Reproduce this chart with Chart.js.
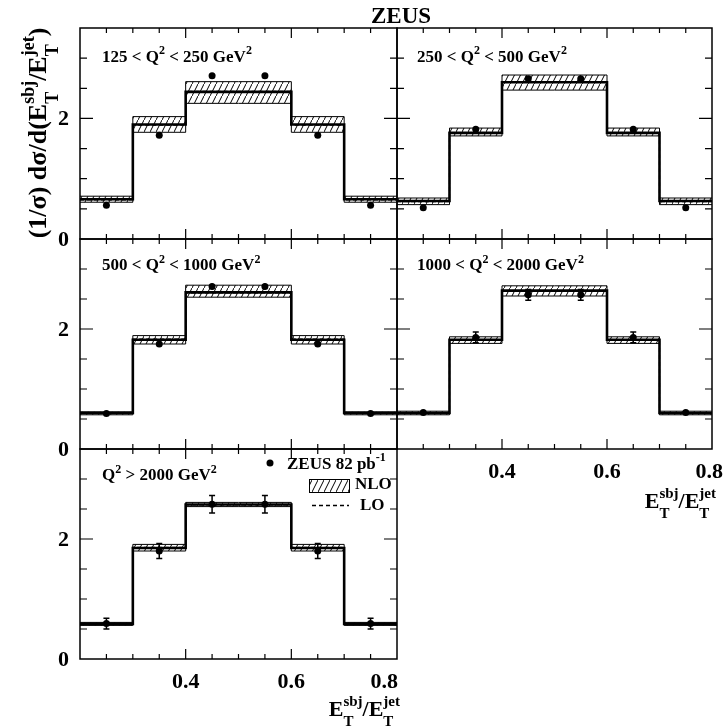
<!DOCTYPE html>
<html>
<head>
<meta charset="utf-8">
<script src="https://cdn.jsdelivr.net/npm/chart.js@4.4.1/dist/chart.umd.min.js"></script>
<style>
html, body { margin: 0; padding: 0; background: #fff; }
#wrap { position: relative; width: 728px; height: 726px; }
#wrap canvas { position: absolute; left: 0; top: 0; }
</style>
</head>
<body>
<div id="wrap"></div>
<script>
// Bins of E_T^sbj / E_T^jet
const binEdges = [0.2, 0.3, 0.4, 0.5, 0.6, 0.7, 0.8];
const binCentres = [0.25, 0.35, 0.45, 0.55, 0.65, 0.75];
const yTickLabels = [0, 2];
const xTickLabels = [0.4, 0.6, 0.8];

// 125 < Q2 < 250
const zeus1 = [0.56, 1.72, 2.71, 2.71, 1.72, 0.56];
const zeus1Err = [0.02, 0.03, 0.03, 0.03, 0.03, 0.02];
const nlo1 = [0.66, 1.90, 2.44, 2.44, 1.90, 0.66];
const nlo1Up = [0.71, 2.03, 2.61, 2.61, 2.03, 0.71];
const nlo1Dn = [0.61, 1.77, 2.25, 2.25, 1.77, 0.61];
const lo1 = [0.65, 1.89, 2.45, 2.45, 1.89, 0.65];

// 250 < Q2 < 500
const zeus2 = [0.52, 1.82, 2.66, 2.66, 1.82, 0.52];
const zeus2Err = [0.02, 0.03, 0.03, 0.03, 0.03, 0.02];
const nlo2 = [0.63, 1.76, 2.60, 2.60, 1.76, 0.63];
const nlo2Up = [0.68, 1.84, 2.72, 2.72, 1.84, 0.68];
const nlo2Dn = [0.57, 1.71, 2.47, 2.47, 1.71, 0.57];
const lo2 = [0.62, 1.76, 2.61, 2.61, 1.76, 0.62];

// 500 < Q2 < 1000
const zeus3 = [0.59, 1.75, 2.71, 2.71, 1.75, 0.59];
const zeus3Err = [0.02, 0.04, 0.05, 0.05, 0.04, 0.02];
const nlo3 = [0.60, 1.82, 2.61, 2.61, 1.82, 0.60];
const nlo3Up = [0.62, 1.89, 2.73, 2.73, 1.89, 0.62];
const nlo3Dn = [0.57, 1.75, 2.53, 2.53, 1.75, 0.57];
const lo3 = [0.60, 1.83, 2.60, 2.60, 1.83, 0.60];

// 1000 < Q2 < 2000
const zeus4 = [0.61, 1.86, 2.57, 2.57, 1.86, 0.61];
const zeus4Err = [0.04, 0.09, 0.09, 0.09, 0.09, 0.04];
const nlo4 = [0.60, 1.82, 2.64, 2.64, 1.82, 0.60];
const nlo4Up = [0.63, 1.87, 2.72, 2.72, 1.87, 0.63];
const nlo4Dn = [0.57, 1.76, 2.55, 2.55, 1.76, 0.57];
const lo4 = [0.60, 1.82, 2.63, 2.63, 1.82, 0.60];

// Q2 > 2000
const zeus5 = [0.59, 1.80, 2.58, 2.58, 1.80, 0.59];
const zeus5Err = [0.09, 0.125, 0.145, 0.145, 0.125, 0.09];
const nlo5 = [0.585, 1.85, 2.575, 2.575, 1.85, 0.585];
const nlo5Up = [0.61, 1.91, 2.61, 2.61, 1.91, 0.61];
const nlo5Dn = [0.56, 1.80, 2.54, 2.54, 1.80, 0.56];
const lo5 = [0.59, 1.86, 2.57, 2.57, 1.86, 0.59];

const panelLabels = [
    [{t: '125 < Q'}, {sup: '2'}, {t: ' < 250 GeV'}, {sup: '2'}],
    [{t: '250 < Q'}, {sup: '2'}, {t: ' < 500 GeV'}, {sup: '2'}],
    [{t: '500 < Q'}, {sup: '2'}, {t: ' < 1000 GeV'}, {sup: '2'}],
    [{t: '1000 < Q'}, {sup: '2'}, {t: ' < 2000 GeV'}, {sup: '2'}],
    [{t: 'Q'}, {sup: '2'}, {t: ' > 2000 GeV'}, {sup: '2'}]
];

const SERIF = '"Liberation Serif", "Times New Roman", serif';
const W = 728, H = 726;
const cols = [[80, 397], [397, 712]];
const rows = [[28, 239], [239, 449], [449, 659]];

// hatch fill for the NLO band
const hatch = (() => {
    const c = document.createElement('canvas');
    c.width = 6; c.height = 12;
    const g = c.getContext('2d');
    g.strokeStyle = '#000';
    g.lineWidth = 1;
    g.beginPath();
    g.moveTo(-1.5, 15); g.lineTo(7.5, -3);
    g.stroke();
    return g.createPattern(c, 'repeat');
})();

// text with super/subscripts
function drawRich(ctx, parts, x, y, size, align) {
    const big = `bold ${size}px ${SERIF}`;
    const small = `bold ${Math.round(size * 0.7)}px ${SERIF}`;
    const widths = parts.map(p => {
        if (p.stack) {
            ctx.font = small;
            return Math.max(ctx.measureText(p.stack[0]).width, ctx.measureText(p.stack[1]).width);
        }
        ctx.font = (p.sup || p.sub) ? small : big;
        return ctx.measureText(p.t || p.sup || p.sub).width;
    });
    const total = widths.reduce((a, b) => a + b, 0);
    let cx = align === 'right' ? x - total : align === 'center' ? x - total / 2 : x;
    ctx.textAlign = 'left';
    ctx.textBaseline = 'alphabetic';
    ctx.fillStyle = '#000';
    parts.forEach((p, i) => {
        if (p.stack) {
            ctx.font = small;
            ctx.fillText(p.stack[0], cx, y - size * 0.45);
            ctx.fillText(p.stack[1], cx, y + size * 0.45);
        } else if (p.sup) {
            ctx.font = small;
            ctx.fillText(p.sup, cx, y - size * 0.42);
        } else if (p.sub) {
            ctx.font = small;
            ctx.fillText(p.sub, cx, y + size * 0.4);
        } else {
            ctx.font = big;
            ctx.fillText(p.t, cx, y);
        }
        cx += widths[i];
    });
}

const xTitle = [{t: 'E'}, {stack: ['sbj', 'T']}, {t: '/E'}, {stack: ['jet', 'T']}];
const yTitle = [{t: '(1/σ) dσ/d(E'}, {stack: ['sbj', 'T']}, {t: '/E'}, {stack: ['jet', 'T']}, {t: ')'}];

const panelPlugin = {
    id: 'panel',
    afterDatasetsDraw(chart, args, opts) {
        // error bars on the data points
        const ctx = chart.ctx, xs = chart.scales.x, ys = chart.scales.y;
        ctx.save();
        ctx.strokeStyle = '#000';
        ctx.lineWidth = 1.5;
        opts.values.forEach((v, i) => {
            const e = opts.errors[i];
            const px = xs.getPixelForValue(binCentres[i]);
            const y1 = ys.getPixelForValue(v + e), y2 = ys.getPixelForValue(v - e);
            ctx.beginPath();
            ctx.moveTo(px, y1); ctx.lineTo(px, y2);
            if (y2 - y1 > 8) {
                ctx.moveTo(px - 3, y1); ctx.lineTo(px + 3, y1);
                ctx.moveTo(px - 3, y2); ctx.lineTo(px + 3, y2);
            }
            ctx.stroke();
        });
        ctx.restore();
    },
    afterDraw(chart, args, opts) {
        const ctx = chart.ctx, xs = chart.scales.x, ys = chart.scales.y;
        const a = chart.chartArea;
        ctx.save();
        ctx.strokeStyle = '#000';
        ctx.lineWidth = 1.5;
        ctx.strokeRect(a.left, a.top, a.right - a.left, a.bottom - a.top);
        ctx.lineWidth = 1.2;
        ctx.beginPath();
        for (let k = 5; k < 16; k++) {
            const v = k / 20;
            const px = xs.getPixelForValue(v);
            const len = (k % 4 === 0) ? 10 : 5;
            ctx.moveTo(px, a.bottom); ctx.lineTo(px, a.bottom - len);
            ctx.moveTo(px, a.top); ctx.lineTo(px, a.top + len);
        }
        for (let k = 1; k < 7; k++) {
            const v = k / 2;
            const py = ys.getPixelForValue(v);
            const len = (k % 4 === 0) ? 13 : 7;
            ctx.moveTo(a.left, py); ctx.lineTo(a.left + len, py);
            ctx.moveTo(a.right, py); ctx.lineTo(a.right - len, py);
        }
        ctx.stroke();

        ctx.fillStyle = '#000';
        ctx.font = `bold 22px ${SERIF}`;
        if (opts.yLabels) {
            ctx.textAlign = 'right';
            ctx.textBaseline = 'middle';
            yTickLabels.forEach(v => ctx.fillText(String(v), 69, ys.getPixelForValue(v) + 1));
        }
        if (opts.xLabels) {
            ctx.textAlign = 'center';
            ctx.textBaseline = 'alphabetic';
            xTickLabels.forEach(v => {
                let px = xs.getPixelForValue(v);
                const w = ctx.measureText(v.toFixed(1)).width;
                px = Math.min(px, opts.labelLimit - w / 2);
                ctx.fillText(v.toFixed(1), px, a.bottom + 28.5);
            });
            drawRich(ctx, xTitle, opts.titleRight, a.bottom + opts.titleDrop, 22, 'right');
        }
        drawRich(ctx, opts.label, a.left + opts.labelDx, a.top + opts.labelDy, 17, 'left');

        if (opts.legend) {
            ctx.beginPath();
            ctx.arc(270, 463, 3.5, 0, Math.PI * 2);
            ctx.fill();
            drawRich(ctx, [{t: 'ZEUS 82 pb'}, {sup: '-1'}], 287, 468.5, 17, 'left');
            ctx.fillStyle = hatch;
            ctx.fillRect(309, 479, 40, 13);
            ctx.lineWidth = 1;
            ctx.strokeRect(309.5, 479.5, 40, 13);
            drawRich(ctx, [{t: 'NLO'}], 355, 488.5, 17, 'left');
            ctx.setLineDash([4, 3]);
            ctx.lineWidth = 1.5;
            ctx.beginPath();
            ctx.moveTo(312, 505.5); ctx.lineTo(349, 505.5);
            ctx.stroke();
            ctx.setLineDash([]);
            drawRich(ctx, [{t: 'LO'}], 360, 510, 17, 'left');
        }
        if (opts.page) {
            drawRich(ctx, [{t: 'ZEUS'}], 401, 22.5, 23, 'center');
            ctx.save();
            ctx.translate(46, 133);
            ctx.rotate(-Math.PI / 2);
            drawRich(ctx, yTitle, 0, 0, 26, 'center');
            ctx.restore();
        }
        ctx.restore();
    }
};

function steps(vals) {
    return binEdges.map((x, i) => ({x: x, y: vals[Math.min(i, vals.length - 1)]}));
}

function makePanel(p) {
    const canvas = document.createElement('canvas');
    canvas.width = W; canvas.height = H;
    document.getElementById('wrap').appendChild(canvas);
    const [l, r] = cols[p.col], [t, b] = rows[p.row];
    return new Chart(canvas, {
        type: 'line',
        data: {
            datasets: [
                {
                    label: 'ZEUS 82 pb-1',
                    data: binCentres.map((x, i) => ({x: x, y: p.zeus[i]})),
                    showLine: false,
                    pointRadius: 3.5,
                    pointBorderWidth: 0,
                    pointBackgroundColor: '#000'
                },
                {
                    label: 'NLO',
                    data: steps(p.nlo),
                    stepped: true,
                    borderColor: '#000',
                    borderWidth: 2.6,
                    pointRadius: 0
                },
                {
                    label: 'LO',
                    data: steps(p.lo),
                    stepped: true,
                    borderColor: '#000',
                    borderWidth: 1.2,
                    borderDash: [4, 3],
                    pointRadius: 0
                },
                {
                    label: 'NLO up',
                    data: steps(p.up),
                    stepped: true,
                    borderColor: '#000',
                    borderWidth: 1,
                    pointRadius: 0
                },
                {
                    label: 'NLO down',
                    data: steps(p.dn),
                    stepped: true,
                    borderColor: '#000',
                    borderWidth: 1,
                    pointRadius: 0,
                    fill: '-1',
                    backgroundColor: hatch
                }
            ]
        },
        options: {
            responsive: false,
            animation: false,
            devicePixelRatio: 1,
            events: [],
            layout: {padding: {left: l, right: W - r, top: t, bottom: H - b}},
            scales: {
                x: {type: 'linear', min: 0.2, max: 0.8, display: false},
                y: {type: 'linear', min: 0, max: 3.5, display: false}
            },
            plugins: {
                legend: {display: false},
                tooltip: {enabled: false},
                panel: {
                    values: p.zeus,
                    errors: p.err,
                    label: p.label,
                    labelDx: p.col === 0 ? 22 : 20,
                    labelDy: p.row === 0 ? 33.5 : 31,
                    yLabels: p.col === 0,
                    xLabels: !!p.xLabels,
                    labelLimit: p.labelLimit,
                    titleRight: p.titleRight,
                    titleDrop: p.titleDrop,
                    legend: !!p.legend,
                    page: !!p.page
                }
            }
        },
        plugins: [panelPlugin]
    });
}

makePanel({col: 0, row: 0, zeus: zeus1, err: zeus1Err, nlo: nlo1, up: nlo1Up, dn: nlo1Dn, lo: lo1, label: panelLabels[0], page: true});
makePanel({col: 1, row: 0, zeus: zeus2, err: zeus2Err, nlo: nlo2, up: nlo2Up, dn: nlo2Dn, lo: lo2, label: panelLabels[1]});
makePanel({col: 0, row: 1, zeus: zeus3, err: zeus3Err, nlo: nlo3, up: nlo3Up, dn: nlo3Dn, lo: lo3, label: panelLabels[2]});
makePanel({col: 1, row: 1, zeus: zeus4, err: zeus4Err, nlo: nlo4, up: nlo4Up, dn: nlo4Dn, lo: lo4, label: panelLabels[3],
    xLabels: true, labelLimit: 723, titleRight: 716, titleDrop: 59});
makePanel({col: 0, row: 2, zeus: zeus5, err: zeus5Err, nlo: nlo5, up: nlo5Up, dn: nlo5Dn, lo: lo5, label: panelLabels[4],
    xLabels: true, labelLimit: 398, titleRight: 400, titleDrop: 57, legend: true});
</script>
</body>
</html>
